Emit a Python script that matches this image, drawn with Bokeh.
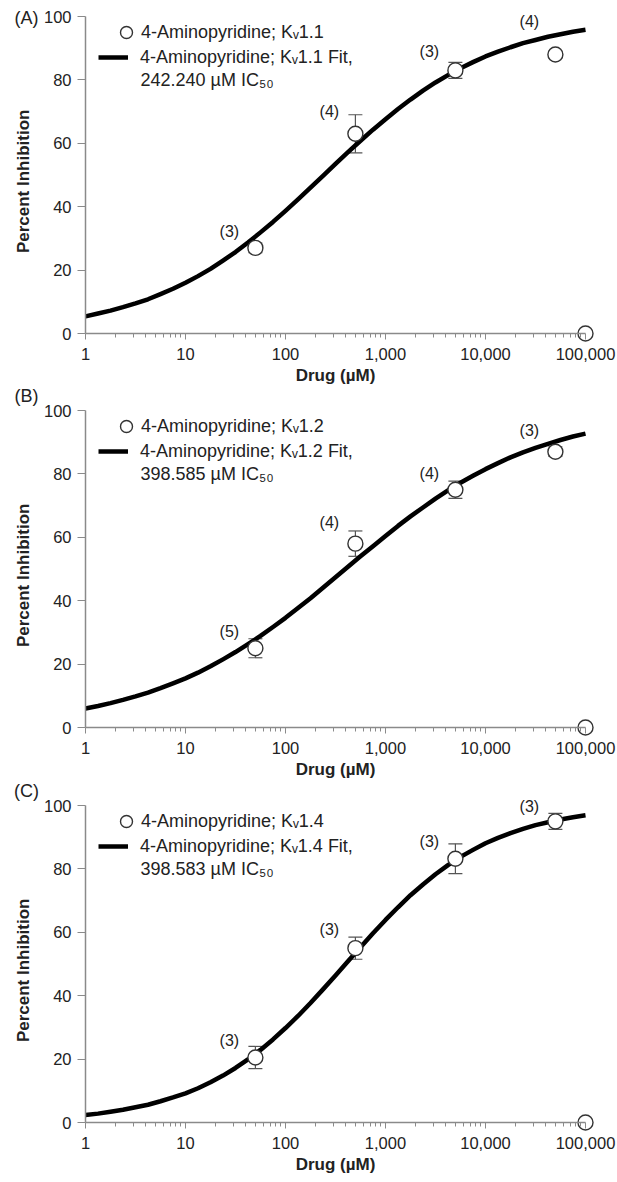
import math
from bokeh.plotting import figure
from bokeh.models import (Range1d, FixedTicker, Whisker, TeeHead, ColumnDataSource,
                          Legend, LegendItem, Label)
from bokeh.layouts import column
from bokeh.embed import file_html
from bokeh.resources import INLINE
from bokeh.core.properties import value

# ---------------- data ----------------
conc = [50, 500, 5000, 50000, 100000]            # Drug (uM)
x_ticks = [1, 10, 100, 1000, 10000, 100000]
x_tick_labels = ["1", "10", "100", "1,000", "10,000", "100,000"]
x_minor = [m * 10 ** k for k in range(5) for m in range(2, 10)]
y_ticks = [0, 20, 40, 60, 80, 100]

mean_A = [27, 63, 83, 88, 0]
sem_A = [1.5, 6, 2.5, 1, 0]
n_A = ["(3)", "(4)", "(3)", "(4)"]

mean_B = [25, 58, 75, 87, 0]
sem_B = [3, 4, 2.7, 1.5, 0]
n_B = ["(5)", "(4)", "(4)", "(3)"]

mean_C = [20.5, 55, 83.2, 95, 0]
sem_C = [3.5, 3.5, 4.7, 2.5, 0]
n_C = ["(3)", "(3)", "(3)", "(3)"]

# fitted curves, read at eighth-decade steps
fit_x = [1, 1.334, 1.778, 2.371, 3.162, 4.217, 5.623, 7.499,
         10, 13.34, 17.78, 23.71, 31.62, 42.17, 56.23, 74.99,
         100, 133.4, 177.8, 237.1, 316.2, 421.7, 562.3, 749.9,
         1000, 1334, 1778, 2371, 3162, 4217, 5623, 7499,
         10000, 13335, 17783, 23714, 31623, 42170, 56234, 74989, 100000]
fit_A = [5.4, 6.3, 7.2, 8.3, 9.5, 10.8, 12.4, 14.1,
         16.0, 18.1, 20.4, 23.0, 25.7, 28.7, 31.9, 35.2,
         38.7, 42.3, 46.0, 49.7, 53.5, 57.2, 60.8, 64.3,
         67.6, 70.8, 73.8, 76.6, 79.2, 81.5, 83.7, 85.6,
         87.4, 88.9, 90.3, 91.6, 92.6, 93.6, 94.4, 95.2, 95.8]
fit_B = [6.0, 6.8, 7.7, 8.7, 9.8, 11.0, 12.4, 13.9,
         15.5, 17.3, 19.3, 21.5, 23.8, 26.3, 28.9, 31.7,
         34.6, 37.7, 40.8, 44.1, 47.4, 50.7, 54.0, 57.2,
         60.4, 63.6, 66.6, 69.4, 72.2, 74.8, 77.2, 79.4,
         81.5, 83.4, 85.2, 86.8, 88.2, 89.5, 90.7, 91.8, 92.7]
fit_C = [2.4, 2.8, 3.4, 4.0, 4.8, 5.6, 6.7, 7.9,
         9.2, 10.8, 12.7, 14.8, 17.2, 19.9, 22.9, 26.2,
         29.8, 33.6, 37.7, 42.0, 46.4, 50.9, 55.3, 59.7,
         63.9, 67.9, 71.7, 75.1, 78.3, 81.2, 83.8, 86.0,
         88.1, 89.8, 91.3, 92.6, 93.8, 94.7, 95.6, 96.3, 96.9]

channels = ["1.1", "1.2", "1.4"]
ic50_text = ["242.240", "398.585", "398.583"]
panel_letters = ["(A)", "(B)", "(C)"]

# label offsets (screen px above the point)
lab_up_A = [16, 22, 19, 33]
lab_up_B = [17, 21, 16, 21]
lab_up_C = [17, 19, 17, 15]

# ---------------- layout constants ----------------
FONT = "Liberation Sans"
AX = "#8a8a8a"
TXT = "#222222"
W = 617
AXIS_X = 85          # px of x=1
PPD = 100.0          # px per decade
PPU = 3.17           # px per percent


def make_panel(letter, mean, sem, nlab, lab_up, fit, ch, ic50, H, top100, letter_up, drug_dy):
    x0 = 10 ** (-AXIS_X / PPD)
    x1 = 10 ** ((W - AXIS_X) / PPD)
    y1 = 100 + top100 / PPU
    y0 = 100 - (H - top100) / PPU
    p = figure(width=W, height=H, x_axis_type="log",
               x_range=Range1d(x0, x1), y_range=Range1d(y0, y1),
               output_backend="svg", toolbar_location=None,
               min_border_left=0, min_border_right=0,
               min_border_top=0, min_border_bottom=0)
    p.outline_line_color = None
    p.xgrid.visible = False
    p.ygrid.visible = False

    # x axis
    xa = p.xaxis[0]
    xa.fixed_location = 0
    xa.bounds = (1, 100000)
    xa.ticker = FixedTicker(ticks=x_ticks, minor_ticks=x_minor)
    xa.major_label_overrides = {t: l for t, l in zip(x_ticks, x_tick_labels)}
    xa.axis_line_color = AX
    xa.axis_line_width = 1.5
    xa.major_tick_line_color = AX
    xa.minor_tick_line_color = AX
    xa.major_tick_in = 0
    xa.major_tick_out = 6
    xa.minor_tick_in = 0
    xa.minor_tick_out = 4
    xa.major_label_standoff = 8
    xa.major_label_text_font = FONT
    xa.major_label_text_font_size = "16.5px"
    xa.major_label_text_color = TXT

    # y axis
    ya = p.yaxis[0]
    ya.fixed_location = 1
    ya.bounds = (0, 100)
    ya.ticker = FixedTicker(ticks=y_ticks)
    ya.axis_line_color = AX
    ya.axis_line_width = 1.5
    ya.major_tick_line_color = AX
    ya.major_tick_in = 0
    ya.major_tick_out = 8
    ya.minor_tick_line_color = None
    ya.major_label_standoff = 6
    ya.major_label_text_font = FONT
    ya.major_label_text_font_size = "16.5px"
    ya.major_label_text_color = TXT

    # error bars
    upper = [m + s for m, s in zip(mean, sem)]
    lower = [m - s for m, s in zip(mean, sem)]
    keep = [i for i, s in enumerate(sem) if s > 0]
    src_err = ColumnDataSource(dict(x=[conc[i] for i in keep],
                                    upper=[upper[i] for i in keep],
                                    lower=[lower[i] for i in keep]))
    w = Whisker(base="x", upper="upper", lower="lower", source=src_err,
                line_color="#555555", line_width=1.2,
                upper_head=TeeHead(size=14, line_color="#555555", line_width=1.2),
                lower_head=TeeHead(size=14, line_color="#555555", line_width=1.2))
    p.add_layout(w)

    # fit line
    fl = p.line(fit_x, fit, line_color="black", line_width=4.5, line_join="round")

    # data points
    sc = p.scatter(conc, mean, marker="circle", size=15, fill_color="white",
                   line_color="#333333", line_width=1.4)

    # n labels
    p.text(x=conc[:4], y=mean[:4], text=nlab, x_offset=-26,
           y_offset=[-u for u in lab_up],
           text_align="center", text_baseline="middle",
           text_font=value(FONT), text_font_size="16px", text_color=TXT)

    # legends (location = bottom-left of box, px from bottom-left of frame)
    leg1 = Legend(items=[LegendItem(label="4-Aminopyridine; K\u1d65" + ch, renderers=[sc])],
                  location=(111, H - top100 - 16 - 16), glyph_width=30, glyph_height=32,
                  label_height=32, label_standoff=0, padding=0, margin=0, spacing=0,
                  border_line_alpha=0, background_fill_alpha=0,
                  label_text_font=FONT, label_text_font_size="18px",
                  label_text_color=TXT)
    leg2 = Legend(items=[LegendItem(label="4-Aminopyridine; K\u1d65" + ch + " Fit,", renderers=[fl])],
                  location=(98, H - top100 - 41 - 16), glyph_width=30, glyph_height=32,
                  label_height=32, label_standoff=12, padding=0, margin=0, spacing=0,
                  border_line_alpha=0, background_fill_alpha=0,
                  label_text_font=FONT, label_text_font_size="18px",
                  label_text_color=TXT)
    p.add_layout(leg1)
    p.add_layout(leg2)
    p.add_layout(Label(x=1, y=100, x_offset=55, y_offset=-63,
                       text=ic50 + " \u00b5M IC\u2085\u2080",
                       text_baseline="middle", text_font=FONT,
                       text_font_size="18px", text_color=TXT))

    # panel letter
    p.add_layout(Label(x=1, y=100, x_offset=-59, y_offset=letter_up, text=letter,
                       text_align="center", text_baseline="middle", text_font=FONT,
                       text_font_size="18px", text_color=TXT))
    # axis titles
    p.add_layout(Label(x=1, y=48, x_offset=-62, angle=math.pi / 2,
                       text="Percent Inhibition",
                       text_align="center", text_baseline="middle", text_font=FONT,
                       text_font_style="bold", text_font_size="17px", text_color=TXT))
    p.add_layout(Label(x=10 ** 2.5, y=0, y_offset=drug_dy, text="Drug (\u00b5M)",
                       text_align="center", text_baseline="middle", text_font=FONT,
                       text_font_style="bold", text_font_size="17px",
                       text_color=TXT))
    return p


pA = make_panel(panel_letters[0], mean_A, sem_A, n_A, lab_up_A, fit_A, channels[0],
                ic50_text[0], 386, 16, -1, -42)
pB = make_panel(panel_letters[1], mean_B, sem_B, n_B, lab_up_B, fit_B, channels[1],
                ic50_text[1], 395, 24, 15, -42)
pC = make_panel(panel_letters[2], mean_C, sem_C, n_C, lab_up_C, fit_C, channels[2],
                ic50_text[2], 401, 24, 15, -42)

layout = column(pA, pB, pC, spacing=0)
open("out.html", "w").write(file_html(layout, INLINE))
